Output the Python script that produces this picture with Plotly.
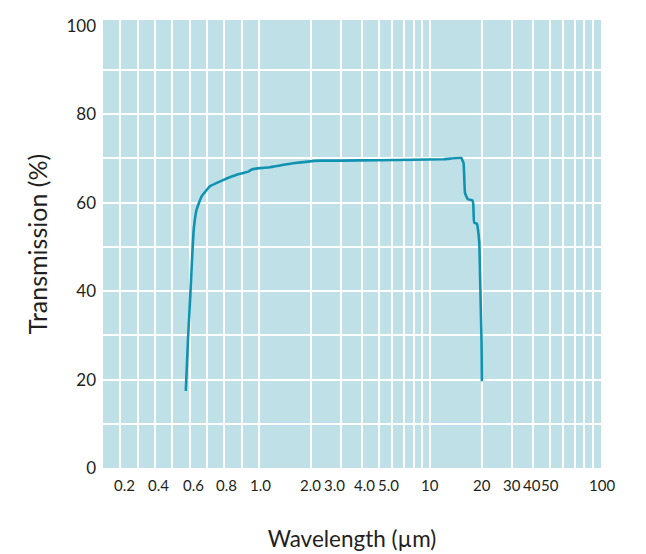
import numpy as np
import plotly.graph_objects as go

# ---- data ----
wavelength_um = [0.577, 0.590, 0.604, 0.616, 0.623, 0.639, 0.668, 0.716, 0.792, 0.870,
                 0.937, 0.956, 1.0, 1.155, 1.32, 1.58, 2.26, 3.0, 5.0, 8.0, 12.0,
                 15.2, 15.7, 16.0, 16.6, 17.7, 17.9, 18.1, 18.8, 19.0, 19.4, 19.6,
                 19.8, 20.0, 20.1]
transmission_pct = [17.4, 29.3, 39.8, 49.5, 54.0, 58.4, 61.4, 63.7, 65.1, 66.3,
                    67.0, 67.5, 67.8, 68.0, 68.4, 68.9, 69.5, 69.5, 69.6, 69.7, 69.8,
                    70.1, 68.9, 62.2, 60.8, 60.5, 59.5, 55.5, 55.2, 54.3, 51.0, 43.6,
                    36.0, 28.6, 19.6]

x_tick_values = [0.2, 0.4, 0.6, 0.8, 1.0, 2.0, 3.0, 4.0, 5.0, 10, 20, 30, 40, 50, 100]
x_tick_labels = ["0.2", "0.4", "0.6", "0.8", "1.0", "2.0", "3.0", "4.0", "5.0",
                 "10", "20", "30", "40", "50", "100"]
x_grid_values = [0.2, 0.3, 0.4, 0.5, 0.6, 0.7, 0.8, 0.9, 1, 2, 3, 4, 5, 6, 7, 8, 9,
                 10, 20, 30, 40, 50, 60, 70, 80, 90]
y_tick_values = [0, 20, 40, 60, 80, 100]
y_grid_values = [10, 20, 30, 40, 50, 60, 70, 80, 90]

# ---- style ----
label_nudge_px = [4, 3, 4, 2, 1, 0, -6, 2, 10, 0, 0, 0, -1, 0, 1]
LIN_SEG = 0.914   # width of the linear 0.1-1 segment, in decade units
FONT = "Lato"
BG = "#c0e0e8"
LINE = "#1093b1"
TEXT = "#231f20"
W, H = 638, 546   # page body has an 8px margin


def xpos(w):
    """Hybrid scale: linear from 0.1 to 1, logarithmic from 1 to 100."""
    w = np.asarray(w, dtype=float)
    return np.where(w <= 1.0, (w - 1.0) / 0.9 * LIN_SEG, np.log10(np.maximum(w, 1e-9)))


fig = go.Figure()
fig.add_trace(go.Scatter(
    x=xpos(wavelength_um), y=transmission_pct, mode="lines",
    line=dict(color=LINE, width=2.6, shape="spline", smoothing=0.3),
    hoverinfo="skip", showlegend=False,
))

for v, t, dx in zip(x_tick_values, x_tick_labels, label_nudge_px):
    fig.add_annotation(x=float(xpos(v)), y=0, xref="x", yref="paper", text=t,
                       showarrow=False, yanchor="top", xanchor="center",
                       xshift=dx, yshift=-6, font=dict(family=FONT, size=15, color=TEXT))

fig.update_xaxes(
    range=[float(xpos(0.1)), 2.0], showgrid=False, zeroline=False, showline=False,
    showticklabels=False, ticks="",
    minor=dict(tickmode="array", tickvals=list(map(float, xpos(x_grid_values))),
               showgrid=True, gridcolor="white", gridwidth=1.8, ticks=""),
    title=dict(text="Wavelength (µm)", standoff=63,
               font=dict(family=FONT, size=22.5, color=TEXT)),
)
fig.update_yaxes(
    range=[0, 101.3], tickmode="array", tickvals=y_tick_values,
    showgrid=False, zeroline=False, showline=False, ticks="",
    ticklabelstandoff=6,
    tickfont=dict(family=FONT, size=17, color=TEXT),
    minor=dict(tickmode="array", tickvals=y_grid_values, showgrid=True,
               gridcolor="white", gridwidth=1.8, ticks=""),
    title=dict(text="Transmission (%)", standoff=11,
               font=dict(family=FONT, size=25, color=TEXT)),
)

L, R, T, B = 95, 45, 7, 86
pw, ph = W - L - R, H - T - B
edge_x = (631 - L) / pw
fig.add_shape(type="line", xref="paper", yref="paper", layer="above",
              x0=edge_x, x1=edge_x, y0=-(B - 1) / ph, y1=1 + (T - 1) / ph,
              line=dict(color="#1f7d99", width=1.5))

fig.update_layout(
    width=W, height=H,
    margin=dict(l=L, r=R, t=T, b=B),
    plot_bgcolor=BG, paper_bgcolor="white",
    font=dict(family=FONT, color=TEXT),
)

fig.write_html("out.html")
